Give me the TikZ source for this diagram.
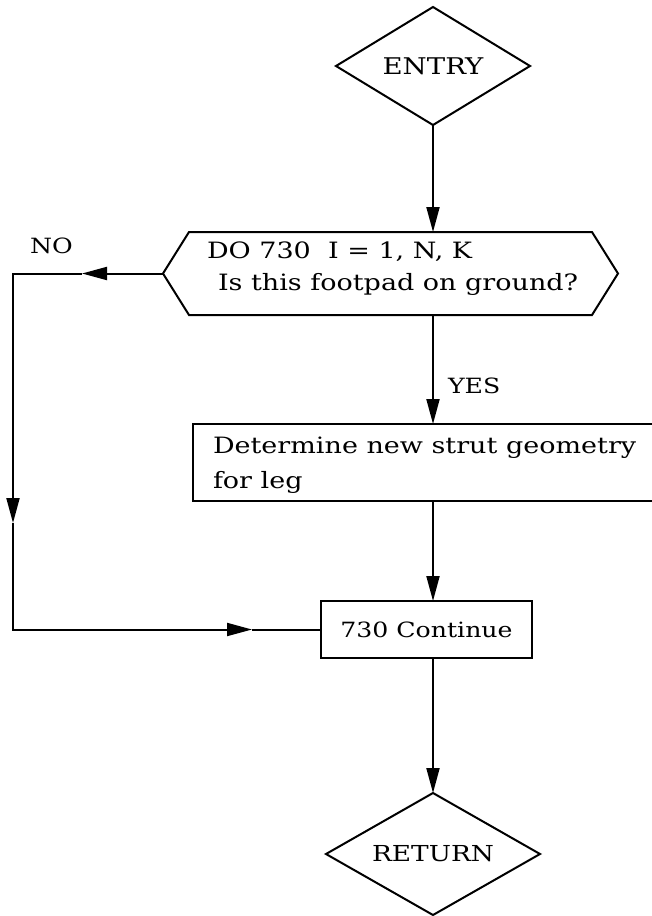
\documentclass[tikz,border=0pt]{standalone}
\usepackage{fontspec}
\setmainfont[FakeStretch=1.2]{DejaVu Serif}
\usetikzlibrary{shapes.geometric,arrows.meta,calc}
\begin{document}
\begin{tikzpicture}[x=1pt,y=-1pt,
  line width=2pt,
  every node/.style={inner sep=0pt, outer sep=0pt},
  txt/.style={font=\fontsize{22.5}{32}\selectfont, align=left},
  lab/.style={font=\fontsize{21}{26}\selectfont},
  terminal/.style={diamond, draw, line width=2pt},
  procbox/.style={draw, line width=2pt, font=\fontsize{21}{26}\selectfont},
  arr/.style={-{Triangle[length=25pt,width=13pt]}},
]
\useasboundingbox (0,0) rectangle (652,916);

% terminals
\node[terminal, font=\fontsize{23}{26}\selectfont, minimum width=194pt, minimum height=118pt, aspect=1.64] (entry) at (433,66) {ENTRY};
\node[terminal, font=\fontsize{22}{26}\selectfont, minimum width=214pt, minimum height=122pt, aspect=1.75] (ret) at (433,854) {RETURN};

% loop decision (hexagon)
\node (hex) at (390.5,273.5) [minimum width=455pt, minimum height=83pt] {};
\draw (hex.west) -- ([xshift=26pt]hex.north west) -- ([xshift=-26pt]hex.north east)
  -- (hex.east) -- ([xshift=-26pt]hex.south east) -- ([xshift=26pt]hex.south west) -- cycle;
\node[txt, anchor=base west] (hextext) at (207,290) {DO 730\ \ I = 1, N, K\\\hspace*{11pt}Is this footpad on ground?};

% process box (open on right)
\node (det) at (422.5,462.5) [minimum width=459pt, minimum height=77pt] {};
\draw (det.north east) -- (det.north west) -- (det.south west) -- (det.south east);
\node[font=\fontsize{22.5}{35}\selectfont, align=left, anchor=base west] (dettext) at (213,488) {Determine new strut geometry\\for leg};

% continue box
\node[procbox, minimum width=211pt, minimum height=57pt] (cont) at (426.5,629.5) {730 Continue};

% labels
\node[lab, anchor=base west] (nolab) at (30,253) {NO};
\node[lab, anchor=base west] (yeslab) at (448,393) {YES};

% connectors
\draw[arr] (entry.south) -- (entry.south |- hex.north);
\draw[arr] (entry.south |- hex.south) -- (entry.south |- det.north);
\draw[arr] (entry.south |- det.south) -- (entry.south |- cont.north);
\draw[arr] (entry.south |- cont.south) -- (ret.north);

\coordinate (noTip) at (82,273.5);
\coordinate (nw) at (13,273.5);
\coordinate (downTip) at (13,523);
\coordinate (sw) at (nw |- cont.west);
\coordinate (rTip) at (252,0 |- cont.west);
\draw[arr] (hex.west) -- (noTip);
\draw[arr] (noTip) -- (nw) -- (downTip);
\draw[arr] (downTip) -- (sw) -- (rTip);
\draw (rTip) -- (cont.west);
\end{tikzpicture}
\end{document}
